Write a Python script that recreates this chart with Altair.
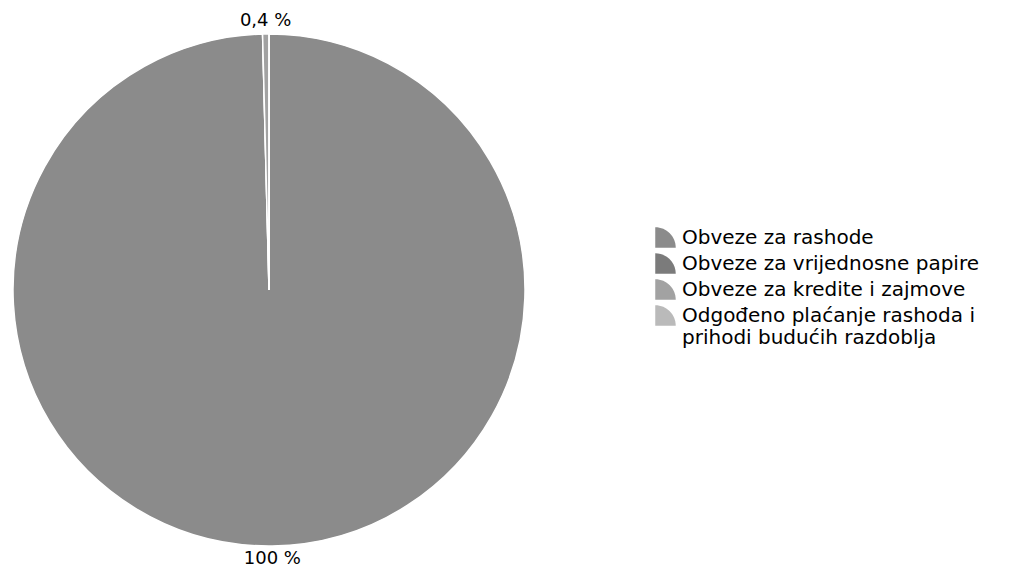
import altair as alt
import pandas as pd

categories = [
    "Obveze za rashode",
    "Obveze za vrijednosne papire",
    "Obveze za kredite i zajmove",
    "Odgođeno plaćanje rashoda i prihodi budućih razdoblja",
]
values = [99.6, 0.0, 0.4, 0.0]
slice_labels = ["100 %", "", "0,4 %", ""]
colors = ["#8b8b8b", "#7b7b7b", "#a2a2a2", "#bababa"]
order = [0, 1, 2, 3]

df = pd.DataFrame({
    "kategorija": categories,
    "vrijednost": values,
    "oznaka": slice_labels,
    "red": order,
})

wedge = "M-1,1L-1,-1A2,2,0,0,1,1,1Z"

base = alt.Chart(df).encode(
    theta=alt.Theta("vrijednost:Q", stack=True),
    order=alt.Order("red:Q"),
)

pie = base.mark_arc(outerRadius=256, stroke="white", strokeWidth=1.5).encode(
    color=alt.Color(
        "kategorija:N",
        scale=alt.Scale(domain=categories, range=colors),
        legend=alt.Legend(
            title=None,
            orient="none",
            legendX=647,
            legendY=213,
            symbolType=wedge,
            symbolSize=420,
            symbolStrokeWidth=0,
            labelFont="DejaVu Sans",
            labelFontSize=20,
            labelColor="black",
            labelLimit=400,
            labelOffset=6,
            rowPadding=5,
            labelExpr="datum.label == 'Odgođeno plaćanje rashoda i prihodi budućih razdoblja' ? ['Odgođeno plaćanje rashoda i', 'prihodi budućih razdoblja'] : datum.label",
        ),
    )
)

text = base.mark_text(radius=269, font="DejaVu Sans", fontSize=18, color="black").encode(
    text="oznaka:N"
)

chart = (pie + text).properties(
    width=522, height=552,
    padding={"left": 0, "top": 4, "right": 0, "bottom": 0},
    autosize="pad",
).configure_view(stroke=None)

chart.save("out.html", embed_options={"renderer": "svg", "actions": False})
